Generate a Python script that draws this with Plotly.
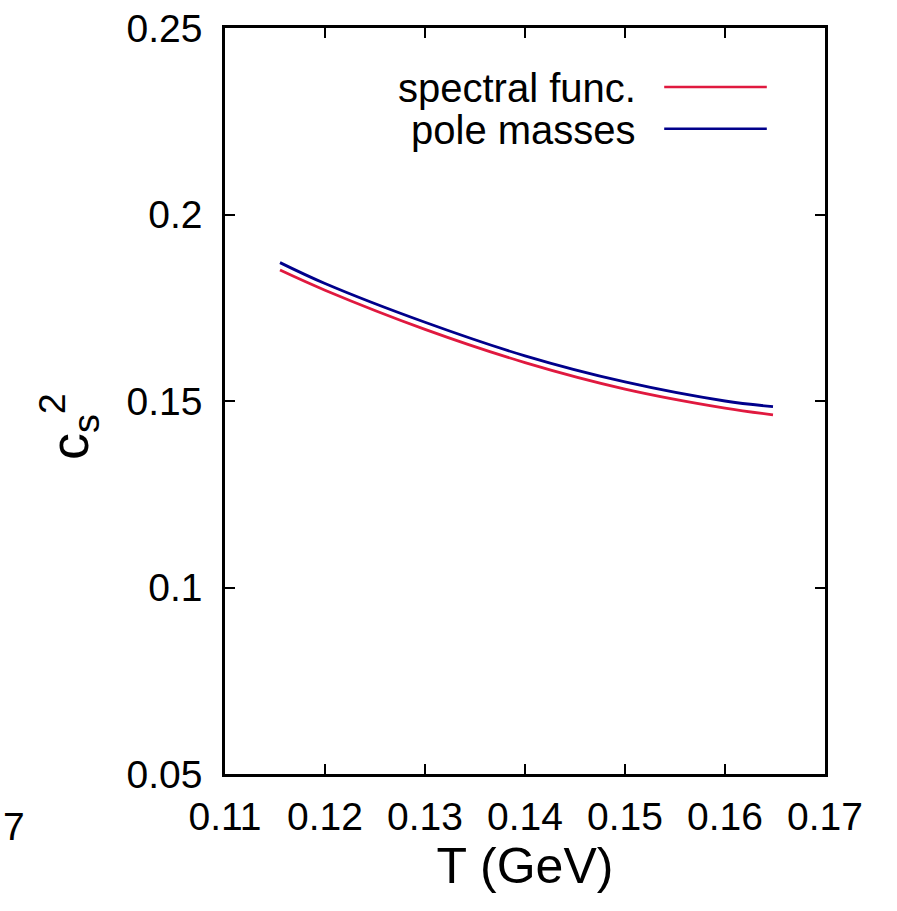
import plotly.graph_objects as go

T_vals = [0.1155, 0.12, 0.13, 0.14, 0.15, 0.16, 0.1648]
cs2_spectral = [0.1851, 0.1797, 0.1692, 0.1603, 0.1532, 0.1481, 0.1463]
cs2_pole = [0.1871, 0.1815, 0.1711, 0.1621, 0.1551, 0.1500, 0.1485]
x_ticks = [0.11, 0.12, 0.13, 0.14, 0.15, 0.16, 0.17]
y_ticks = [0.05, 0.1, 0.15, 0.2, 0.25]
y_tick_text = ["0.05", "0.1", "0.15", "0.2", "0.25"]
legend_names = ["spectral func.", "pole masses"]
red = "#e0193f"
blue = "#00008b"

FONT = "Liberation Sans, Arial, sans-serif"

fig = go.Figure()
fig.add_trace(go.Scatter(x=T_vals, y=cs2_spectral, mode="lines", line=dict(color=red, width=2.8, shape="spline"),
                         name=legend_names[0], showlegend=False))
fig.add_trace(go.Scatter(x=T_vals, y=cs2_pole, mode="lines", line=dict(color=blue, width=2.8, shape="spline"),
                         name=legend_names[1], showlegend=False))

# legend drawn gnuplot-style: text right, sample line after it
for i, (name, col) in enumerate(zip(legend_names, [red, blue])):
    ypos = 0.919 - i * 0.056
    fig.add_annotation(x=0.688, y=ypos, xref="paper", yref="paper", text=name, showarrow=False,
                       xanchor="right", yanchor="middle", font=dict(size=40, color="black", family=FONT))
    fig.add_shape(type="line", xref="paper", yref="paper", x0=0.732, x1=0.903, y0=ypos + 0.002, y1=ypos + 0.002,
                  line=dict(color=col, width=2.5))

# y-axis title c_s^2
fig.add_annotation(x=-0.26, y=0.465, xref="paper", yref="paper", text="c<sub>s</sub><sup>2</sup>", showarrow=False,
                   textangle=-90, font=dict(size=54, color="black", family=FONT), xanchor="center", yanchor="middle")
# fragment of neighbouring panel label
fig.add_annotation(x=-0.33, y=-0.07, xref="paper", yref="paper", text="7", showarrow=False,
                   xanchor="right", yanchor="middle", font=dict(size=39, color="black", family=FONT))

axis_common = dict(showgrid=False, zeroline=False, showline=True, linecolor="black", linewidth=2.5,
                   mirror="allticks", ticks="inside", ticklen=10, tickwidth=1.5, tickcolor="black",
                   tickfont=dict(size=39, color="black", family=FONT))
fig.update_xaxes(range=[0.11, 0.17], tickvals=x_ticks, ticktext=[f"{v:.2f}" for v in x_ticks],
                 ticklabelstandoff=6,
                 title=dict(text="T (GeV)", font=dict(size=50, color="black", family=FONT), standoff=8),
                 **axis_common)
fig.update_yaxes(range=[0.05, 0.25], tickvals=y_ticks, ticktext=y_tick_text, ticklabelstandoff=12, **axis_common)

fig.update_layout(width=897, height=911, margin=dict(l=225, r=72, t=28, b=137, autoexpand=False),
                  plot_bgcolor="white", paper_bgcolor="white", font=dict(family=FONT, color="black"))
fig.write_html("out.html")
